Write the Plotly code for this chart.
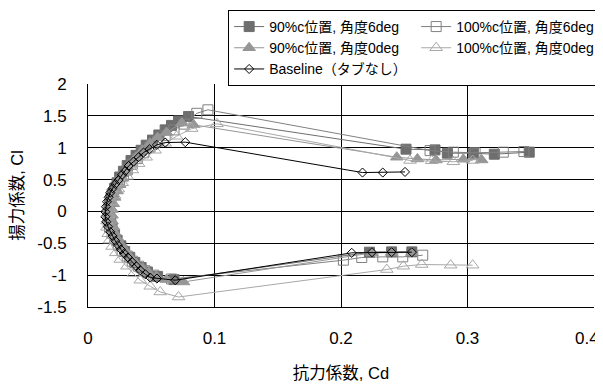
import plotly.graph_objects as go

# ---- data (Cd, Cl) ----
names = ["90%c位置, 角度6deg", "100%c位置, 角度6deg", "90%c位置, 角度0deg",
         "100%c位置, 角度0deg", "Baseline（タブなし）"]

cd_90_6 = [0.256, 0.240, 0.2225, 0.068, 0.055, 0.047, 0.042, 0.037, 0.033, 0.029, 0.026, 0.023,
           0.021, 0.019, 0.018, 0.017, 0.017, 0.017, 0.018, 0.019, 0.021, 0.023, 0.025, 0.028,
           0.031, 0.034, 0.038, 0.042, 0.046, 0.051, 0.056, 0.061, 0.066, 0.0716, 0.0795,
           0.2514, 0.2743, 0.2841, 0.3046, 0.3212, 0.3488]
cl_90_6 = [-0.635, -0.635, -0.64, -1.07, -1.02, -0.95, -0.88, -0.80, -0.72, -0.63, -0.54, -0.45,
           -0.36, -0.27, -0.18, -0.09, 0.0, 0.09, 0.18, 0.27, 0.36, 0.45, 0.54, 0.63,
           0.72, 0.80, 0.88, 0.96, 1.04, 1.12, 1.20, 1.28, 1.35, 1.42, 1.49,
           0.977, 0.966, 0.914, 0.914, 0.898, 0.93]

cd_100_6 = [0.2646, 0.2488, 0.2330, 0.2164, 0.2019, 0.066, 0.052, 0.045, 0.040, 0.035, 0.031,
            0.027, 0.024, 0.021, 0.019, 0.017, 0.016, 0.016, 0.016, 0.017, 0.018, 0.020, 0.022,
            0.025, 0.028, 0.031, 0.035, 0.039, 0.044, 0.049, 0.055, 0.061, 0.068, 0.076,
            0.086, 0.0948,
            0.2704, 0.2888, 0.3060, 0.3283, 0.3446]
cl_100_6 = [-0.687, -0.713, -0.713, -0.723, -0.765, -1.06, -1.00, -0.93, -0.86, -0.78, -0.70,
            -0.61, -0.52, -0.43, -0.34, -0.25, -0.16, -0.07, 0.02, 0.11, 0.20, 0.29, 0.38,
            0.47, 0.56, 0.65, 0.74, 0.83, 0.92, 1.01, 1.10, 1.19, 1.28, 1.37,
            1.54, 1.595,
            0.955, 0.930, 0.92, 0.93, 0.94]

cd_90_0 = [0.256, 0.240, 0.2245, 0.0755, 0.062, 0.054, 0.048, 0.043, 0.038, 0.034, 0.031, 0.028,
           0.025, 0.023, 0.021, 0.020, 0.019, 0.019, 0.019, 0.020, 0.021, 0.023, 0.025, 0.027,
           0.030, 0.034, 0.038, 0.043, 0.049, 0.055, 0.062, 0.0742, 0.0834,
           0.2441, 0.2604, 0.2751, 0.2967, 0.3112]
cl_90_0 = [-0.645, -0.645, -0.65, -1.107, -1.07, -1.02, -0.96, -0.89, -0.82, -0.74, -0.66, -0.58,
           -0.50, -0.42, -0.33, -0.24, -0.15, -0.06, 0.03, 0.12, 0.22, 0.32, 0.42, 0.52,
           0.63, 0.74, 0.85, 0.96, 1.07, 1.16, 1.24, 1.386, 1.36,
           0.851, 0.824, 0.808, 0.819, 0.808]

cd_100_0 = [0.3041, 0.2867, 0.2638, 0.2493, 0.2362, 0.0716, 0.0571, 0.0492, 0.0413, 0.036,
            0.0308, 0.0255, 0.022, 0.019, 0.017, 0.016, 0.015, 0.015, 0.016, 0.017, 0.019,
            0.021, 0.024, 0.027, 0.031, 0.035, 0.040, 0.046, 0.053, 0.061, 0.070, 0.082, 0.1019,
            0.2546, 0.2717, 0.2888, 0.3041]
cl_100_0 = [-0.844, -0.844, -0.833, -0.86, -0.912, -1.343, -1.264, -1.175, -1.08, -0.975,
            -0.86, -0.754, -0.65, -0.55, -0.45, -0.35, -0.25, -0.15, -0.05, 0.05, 0.15,
            0.25, 0.35, 0.45, 0.55, 0.65, 0.75, 0.85, 0.96, 1.07, 1.18, 1.30, 1.375,
            0.80, 0.795, 0.78, 0.80]

cd_base = [0.256, 0.240, 0.2245, 0.2085, 0.069, 0.0545, 0.0492, 0.0453, 0.0413, 0.0382, 0.0348,
           0.0316, 0.0287, 0.0261, 0.0237, 0.0216, 0.0195, 0.0176, 0.0158, 0.0145, 0.0137, 0.0137,
           0.0142, 0.0150, 0.0163, 0.0176, 0.0195, 0.0216, 0.0242, 0.0269, 0.0295, 0.0321, 0.0360,
           0.0400, 0.0439, 0.0487, 0.0545, 0.0611, 0.0769, 0.217, 0.233, 0.2506]
cl_base = [-0.64, -0.64, -0.64, -0.65, -1.08, -1.053, -1.038, -0.985, -0.923, -0.860, -0.792,
           -0.723, -0.660, -0.597, -0.529, -0.461, -0.387, -0.320, -0.241, -0.162, -0.084, -0.005,
           0.074, 0.152, 0.222, 0.294, 0.363, 0.431, 0.494, 0.573, 0.636, 0.714, 0.782,
           0.851, 0.924, 0.977, 1.045, 1.081, 1.087, 0.61, 0.61, 0.62]

y_ticks = [-1.5, -1, -0.5, 0, 0.5, 1, 1.5, 2]
y_ticktext = ["-1.5", "-1", "-0.5", "0", "0.5", "1", "1.5", "2"]
x_ticks = [0, 0.1, 0.2, 0.3, 0.4]
# last label padded so it stays inside the page, as in the reference
x_ticktext = ["0", "0.1", "0.2", "0.3", "0.4\u00a0\u00a0\u00a0"]

FONT = "Arial, 'Liberation Sans', 'Noto Sans CJK JP', sans-serif"

fig = go.Figure()
series = [
    (cd_90_6, cl_90_6, "square", 10, "#6e6e6e", "#6e6e6e"),
    (cd_100_6, cl_100_6, "square-open", 10, "#808080", "#808080"),
    (cd_90_0, cl_90_0, "triangle-up", 11, "#969696", "#969696"),
    (cd_100_0, cl_100_0, "triangle-up-open", 11, "#a8a8a8", "#a8a8a8"),
    (cd_base, cl_base, "diamond-open", 7, "#000000", "#000000"),
]
for (xs, ys, sym, sz, mc, lc), nm in zip(series, names):
    fig.add_trace(go.Scatter(
        x=xs, y=ys, name=nm, mode="lines+markers",
        line=dict(color=lc, width=1),
        marker=dict(symbol=sym, size=sz, color=mc, line=dict(color=mc, width=1)),
    ))

# the page body keeps an 8px default margin, so the figure is 8px smaller
fig.update_layout(
    width=595, height=377,
    margin=dict(l=80, r=9, t=76, b=78, autoexpand=False),
    paper_bgcolor="white", plot_bgcolor="white",
    font=dict(family=FONT, color="black"),
    showlegend=True,
    legend=dict(
        orientation="h", x=0.277, xanchor="left", y=1.332, yanchor="top",
        entrywidth=142, entrywidthmode="pixels",
        bordercolor="black", borderwidth=1, bgcolor="white",
        font=dict(size=14, family=FONT), traceorder="normal",
    ),
    xaxis=dict(
        range=[0, 0.4], tickvals=x_ticks, ticktext=x_ticktext,
        showgrid=True, gridcolor="black", gridwidth=1,
        showline=True, linecolor="black", linewidth=1,
        zeroline=False, ticks="", tickfont=dict(size=17),
        ticklabelstandoff=16, ticklabeloverflow="allow",
        title=dict(text="抗力係数, Cd", font=dict(size=16.5), standoff=20),
    ),
    yaxis=dict(
        range=[-1.5, 2], tickvals=y_ticks, ticktext=y_ticktext,
        showgrid=True, gridcolor="black", gridwidth=1,
        showline=True, linecolor="black", linewidth=1,
        zeroline=False, ticks="", tickfont=dict(size=17),
        ticklabelstandoff=17, ticklabeloverflow="allow",
        title=dict(text="揚力係数, Cl", font=dict(size=16.5), standoff=14),
    ),
)

fig.write_html("out.html")
